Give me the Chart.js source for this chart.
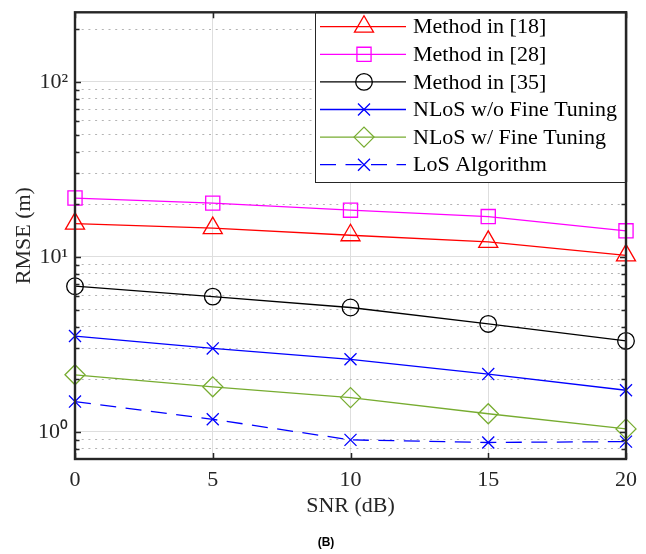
<!DOCTYPE html>
<html><head><meta charset="utf-8">
<script src="https://cdn.jsdelivr.net/npm/chart.js@4/dist/chart.umd.min.js"></script>
<style>html,body{margin:0;padding:0;background:#fff;}canvas{display:block;}</style>
</head><body>
<canvas id="c" width="646" height="554"></canvas>
<script>
// ---- data ----
const snr = [0, 5, 10, 15, 20];
const method18 = [15.5, 14.6, 13.3, 12.2, 10.2];
const method28 = [21.7, 20.3, 18.5, 17.0, 14.1];
const method35 = [6.8, 5.93, 5.14, 4.14, 3.31];
const nlosNoFT = [3.53, 3.0, 2.6, 2.14, 1.73];
const nlosFT = [2.12, 1.81, 1.57, 1.27, 1.04];
const losAlg = [1.49, 1.18, 0.9, 0.87, 0.88];
const seriesLabels = ['Method in [18]', 'Method in [28]', 'Method in [35]', 'NLoS w/o Fine Tuning', 'NLoS w/ Fine Tuning', 'LoS Algorithm'];
const xTickValues = [0, 5, 10, 15, 20];
const yTickValues = [0.8, 0.9, 1, 2, 3, 4, 5, 6, 7, 8, 9, 10, 20, 30, 40, 50, 60, 70, 80, 90, 100, 200];
const yMajorValues = [1, 10, 100];
const yMajorLabels = ['10⁰', '10¹', '10²'];
const xTitle = 'SNR (dB)';
const yTitle = 'RMSE (m)';
const caption = '(B)';

const FONT = "'Liberation Serif', 'Times New Roman', serif";
const AX = '#262626';

function pts(vals) { return snr.map((s, i) => ({ x: s, y: vals[i] })); }
const styles = [
  { color: '#FF0000', ps: 'triangle', r: 11, dash: [] },
  { color: '#FF00FF', ps: 'rect', r: 10, dash: [] },
  { color: '#000000', ps: 'circle', r: 8.3, dash: [] },
  { color: '#0000FF', ps: 'crossRot', r: 8.5, dash: [] },
  { color: '#77AC30', ps: 'rectRot', r: 10, dash: [] },
  { color: '#0000FF', ps: 'crossRot', r: 8.5, dash: [16, 9.5] },
];
const series = [method18, method28, method35, nlosNoFT, nlosFT, losAlg];
const datasets = series.map((v, i) => ({
  label: seriesLabels[i],
  data: pts(v),
  borderColor: styles[i].color,
  backgroundColor: 'rgba(0,0,0,0)',
  borderWidth: 1.3,
  borderDash: styles[i].dash,
  pointStyle: styles[i].ps,
  pointRadius: styles[i].r,
  pointBorderColor: styles[i].color,
  pointBackgroundColor: 'rgba(0,0,0,0)',
  pointBorderWidth: 1.3,
  tension: 0,
  clip: false,
}));

function isMajor(v) { return yMajorValues.some(m => Math.abs(m - v) < 1e-9); }

function drawMarker(ctx, ps, x, y, r) {
  ctx.beginPath();
  if (ps === 'triangle') {
    for (let k = 0; k < 3; k++) {
      const a = k * 2 * Math.PI / 3;
      const px = x + Math.sin(a) * r, py = y - Math.cos(a) * r;
      k ? ctx.lineTo(px, py) : ctx.moveTo(px, py);
    }
    ctx.closePath();
  } else if (ps === 'rect') {
    const s = Math.SQRT1_2 * r; ctx.rect(x - s, y - s, 2 * s, 2 * s);
  } else if (ps === 'circle') {
    ctx.arc(x, y, r, 0, 2 * Math.PI);
  } else if (ps === 'crossRot') {
    const d = Math.cos(Math.PI / 4) * r;
    ctx.moveTo(x - d, y - d); ctx.lineTo(x + d, y + d);
    ctx.moveTo(x - d, y + d); ctx.lineTo(x + d, y - d);
  } else if (ps === 'rectRot') {
    ctx.moveTo(x - r, y); ctx.lineTo(x, y - r); ctx.lineTo(x + r, y); ctx.lineTo(x, y + r); ctx.closePath();
  }
  ctx.stroke();
}

const framePlugin = {
  id: 'frame',
  afterDraw(chart) {
    const { ctx, chartArea: a, scales: { x, y } } = chart;
    ctx.save();
    ctx.strokeStyle = AX; ctx.lineWidth = 1.5; ctx.setLineDash([]);
    // inward ticks
    ctx.beginPath();
    y.ticks.forEach(t => {
      const py = Math.round(y.getPixelForValue(t.value)) + 0.5;
      const len = isMajor(t.value) ? 6 : 4.5;
      ctx.moveTo(a.left, py); ctx.lineTo(a.left + len, py);
      ctx.moveTo(a.right, py); ctx.lineTo(a.right - len, py);
    });
    x.ticks.forEach(t => {
      const px = Math.round(x.getPixelForValue(t.value)) + 0.5;
      ctx.moveTo(px, a.bottom); ctx.lineTo(px, a.bottom - 6);
      ctx.moveTo(px, a.top); ctx.lineTo(px, a.top + 6);
    });
    ctx.stroke();
    // box
    ctx.lineWidth = 2.4;
    ctx.strokeRect(a.left, a.top, a.right - a.left, a.bottom - a.top);
    // legend
    const L = 315.5, T = a.top, R = a.right, B = 182;
    ctx.fillStyle = '#fff';
    ctx.fillRect(L, T, R - L, B - T);
    ctx.lineWidth = 1;
    ctx.strokeStyle = AX;
    ctx.strokeRect(L, T + 0.5, R - L, B - T);
    ctx.lineWidth = 2.4;
    ctx.beginPath(); ctx.moveTo(L, a.top); ctx.lineTo(R, a.top); ctx.lineTo(R, B); ctx.stroke();
    ctx.font = '22px ' + FONT;
    ctx.textBaseline = 'middle';
    ctx.textAlign = 'left';
    chart.data.datasets.forEach((ds, i) => {
      const ly = 26.7 + i * 27.6;
      ctx.strokeStyle = ds.borderColor;
      ctx.lineWidth = ds.borderWidth;
      ctx.setLineDash(ds.borderDash || []);
      ctx.beginPath(); ctx.moveTo(320, ly); ctx.lineTo(406, ly); ctx.stroke();
      ctx.setLineDash([]);
      ctx.lineWidth = ds.pointBorderWidth;
      drawMarker(ctx, ds.pointStyle, 364, ly, ds.pointRadius);
      ctx.fillStyle = '#000';
      ctx.fillText(ds.label, 413, ly + 1);
    });
    // caption
    ctx.font = "bold 12px 'Liberation Sans', Arial, sans-serif";
    ctx.textAlign = 'center';
    ctx.fillStyle = '#000';
    ctx.fillText(caption, 326, 543);
    ctx.restore();
  }
};

new Chart(document.getElementById('c'), {
  type: 'line',
  data: { datasets },
  plugins: [framePlugin],
  options: {
    responsive: false,
    animation: false,
    events: [],
    layout: { padding: { left: 0, top: 9, right: 20, bottom: 0 } },
    plugins: { legend: { display: false }, tooltip: { enabled: false } },
    scales: {
      x: {
        type: 'linear', min: 0, max: 20,
        afterBuildTicks: s => { s.ticks = xTickValues.map(v => ({ value: v })); },
        afterFit: s => { s.height = 95; s.paddingLeft = 0; s.paddingRight = 0; },
        grid: { color: '#dedede', lineWidth: 1, drawTicks: false },
        border: { display: false },
        ticks: { color: AX, font: { family: FONT, size: 22 }, padding: 8, autoSkip: false, maxRotation: 0 },
        title: { display: true, text: xTitle, color: AX, font: { family: FONT, size: 22 }, padding: { top: 0, bottom: 35 } },
      },
      y: {
        type: 'logarithmic', min: 0.73, max: 250,
        afterBuildTicks: s => { s.ticks = yTickValues.map(v => ({ value: v })); },
        afterFit: s => { s.width = 75; s.paddingTop = 0; s.paddingBottom = 0; },
        grid: {
          color: c => (c.tick && isMajor(c.tick.value)) ? '#dedede' : '#b4b4b4',
          lineWidth: 1, drawTicks: false,
        },
        border: { display: false, dash: c => (c.tick && isMajor(c.tick.value)) ? [] : [2, 4.7] },
        ticks: {
          color: AX, font: { family: FONT, size: 22 }, padding: 7, autoSkip: false,
          callback: v => { const k = yMajorValues.findIndex(m => Math.abs(m - v) < 1e-9); return k >= 0 ? yMajorLabels[k] : ''; },
        },
        title: { display: true, text: yTitle, color: AX, font: { family: FONT, size: 22 }, padding: { top: 11, bottom: 0 } },
      },
    },
  },
});
</script>
</body></html>
